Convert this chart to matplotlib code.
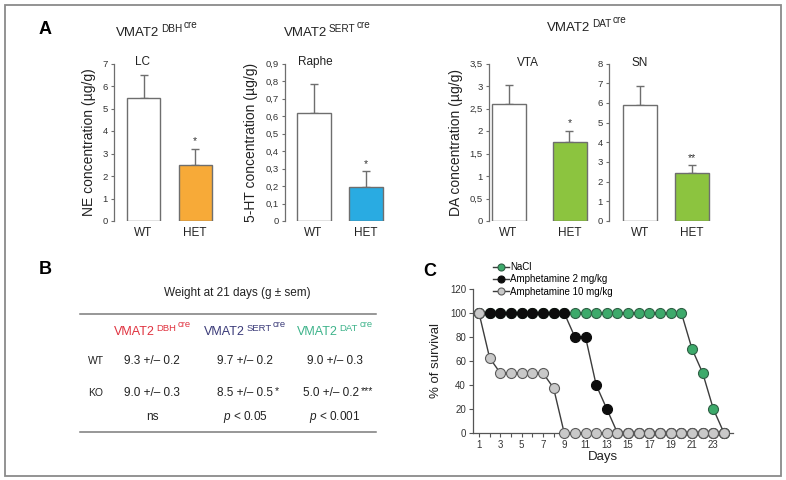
import matplotlib
matplotlib.use("Agg")
import matplotlib.pyplot as plt
from matplotlib.patches import Rectangle
from matplotlib.lines import Line2D

plt.rcParams['font.family'] = ['Liberation Sans', 'DejaVu Sans']
plt.rcParams['mathtext.fontset'] = 'custom'
plt.rcParams['mathtext.rm'] = 'Liberation Sans'
plt.rcParams['mathtext.it'] = 'Liberation Sans:italic'

# ---- panel A data ----
regions = ['LC', 'Raphe', 'VTA', 'SN']
groups = ['WT', 'HET']
wt_mean = [5.45, 0.615, 2.6, 5.9]
wt_sem = [1.02, 0.167, 0.42, 0.97]
het_mean = [2.5, 0.195, 1.76, 2.45]
het_sem = [0.72, 0.09, 0.25, 0.37]
het_stars = ['*', '*', '*', '**']
y_max = [7, 0.9, 3.5, 8]
y_ticks = [list(range(0, 8)),
           [0, 0.1, 0.2, 0.3, 0.4, 0.5, 0.6, 0.7, 0.8, 0.9],
           [0, 0.5, 1, 1.5, 2, 2.5, 3, 3.5],
           list(range(0, 9))]
het_colors = ['#F7AA38', '#29ABE2', '#8CC43F', '#8CC43F']
ylabels = ['NE concentration (µg/g)', '5-HT concentration (µg/g)',
           'DA concentration (µg/g)', None]

# ---- panel B data ----
lines_b = ['DBH', 'SERT', 'DAT']
wt_weight = ['9.3 +/– 0.2', '9.7 +/– 0.2', '9.0 +/– 0.3']
ko_weight = ['9.0 +/– 0.3', '8.5 +/– 0.5', '5.0 +/– 0.2']
ko_stars = ['', '*', '***']
p_text = ['ns', '$p$ < 0.05', '$p$ < 0.001']

# ---- panel C data ----
days = list(range(1, 25))
nacl = [100] * 20 + [70, 50, 20, 0]
amph2 = [100] * 9 + [80, 80, 40, 20] + [0] * 11
amph10 = [100, 62.5, 50, 50, 50, 50, 50, 37.5] + [0] * 16

W, H = 786, 480
fig = plt.figure(figsize=(W / 100, H / 100), dpi=100)
renderer = fig.canvas.get_renderer()


def box(x0, ytop, x1, ybot):
    return [x0 / W, 1 - ybot / H, (x1 - x0) / W, (ybot - ytop) / H]


def ftext(x, y, s, **kw):
    kw.setdefault('ha', 'center')
    kw.setdefault('va', 'center')
    return fig.text(x / W, 1 - y / H, s, **kw)


def sup_text(xc, y, base, sup1, sup2='', fs=9, color='#222222', gap=1.5,
             scale=0.76, rise=0.42):
    # base text with a raised small label and a second, higher one
    small = fs * scale
    pieces = [(base, fs, 0), (sup1, small, -fs * rise), (sup2, small, -fs * 0.88)]
    arts = []
    for s, size, dy in pieces:
        if not s:
            continue
        t = ftext(0, y + dy, s, fontsize=size, color=color, ha='left', va='baseline')
        arts.append((t, t.get_window_extent(renderer).width))
    total = sum(w for _, w in arts) + gap * (len(arts) - 1)
    x = xc - total / 2
    for t, w in arts:
        t.set_x(x / W)
        x += w + gap


# outer frame
fig.patches.append(Rectangle((5 / W, 4 / H), 776 / W, 471 / H, transform=fig.transFigure,
                             fill=False, edgecolor='#8a8a8a', lw=1.3))

# panel layout in pixels: axis x, WT centre, HET centre, bar width
layout = [(114, 143.5, 195, 33), (285, 313.5, 366, 34),
          (489, 508.5, 569.5, 34), (609, 640, 692, 34)]
title_pos = [(142, 62), (315, 62), (528, 63), (640, 63)]
ylabel_x = [96, 258, 463, None]
y0_px, grey = 221, '#6e6e6e'

for i in range(4):
    xa, cw, ch, bw = layout[i]
    sp = ch - cw
    right = ch + bw / 2 + 8
    ax = fig.add_axes(box(xa, 63.5, right, y0_px))
    ax.set_xlim(-(cw - xa) / sp, 1 + (right - ch) / sp)
    ax.set_ylim(0, y_max[i])
    ax.bar([0, 1], [wt_mean[i], het_mean[i]], width=bw / sp,
           color=['white', het_colors[i]], edgecolor=grey, linewidth=1.0, zorder=2)
    ax.errorbar([0, 1], [wt_mean[i], het_mean[i]],
                yerr=[[0, 0], [wt_sem[i], het_sem[i]]], fmt='none',
                ecolor=grey, elinewidth=1.0, capsize=3, capthick=1.0, zorder=1)
    ax.text(1, het_mean[i] + het_sem[i] + y_max[i] * 0.015, het_stars[i],
            ha='center', va='bottom', fontsize=7.5, color='#333333')
    for s in ['top', 'right', 'bottom']:
        ax.spines[s].set_visible(False)
    ax.spines['left'].set_color(grey)
    ax.spines['left'].set_linewidth(0.9)
    ax.set_yticks(y_ticks[i])
    ax.set_yticklabels([('%g' % v).replace('.', ',') for v in y_ticks[i]],
                       fontsize=6.8, color='#333333')
    ax.tick_params(axis='y', length=2.5, width=0.8, color=grey, pad=2)
    ax.set_xticks([0, 1])
    ax.set_xticklabels(groups, fontsize=8.5, color='#222222')
    ax.tick_params(axis='x', length=0, pad=4)
    ax.patch.set_alpha(0)
    if ylabels[i]:
        ax.set_ylabel(ylabels[i], fontsize=10, color='#222222')
        ax.yaxis.set_label_coords((ylabel_x[i] - xa) / (right - xa), 0.5)
    ftext(title_pos[i][0], title_pos[i][1], regions[i], fontsize=8.5, color='#222222')

ftext(45, 30, 'A', fontsize=13, fontweight='bold')
sup_text(157, 36, 'VMAT2', 'DBH', 'cre', fs=9.5)
sup_text(327, 36, 'VMAT2', 'SERT', 'cre', fs=9.5)
sup_text(587, 31, 'VMAT2', 'DAT', 'cre', fs=9.5)

# ---- panel B: table ----
ftext(45, 269, 'B', fontsize=13, fontweight='bold')
ftext(237, 293, 'Weight at 21 days (g ± sem)', fontsize=8.5, color='#222222')
for yl in (314, 432):
    fig.add_artist(Line2D([80 / W, 376 / W], [1 - yl / H, 1 - yl / H],
                          color='#7a7a7a', lw=1.1))
col_x = [152, 245, 335]
head_colors = ['#E0323F', '#3A3A78', '#3DB38A']
for j in range(3):
    sup_text(col_x[j], 335, 'VMAT2', lines_b[j], 'cre', fs=9, color=head_colors[j])
    ftext(col_x[j], 361, wt_weight[j], fontsize=8.5, color='#222222')
    sup_text(col_x[j] + (3 if ko_stars[j] else 0), 396, ko_weight[j], ko_stars[j],
             fs=8.5, gap=1.5, scale=0.9, rise=0.25)
    ftext(col_x[j], 417, p_text[j], fontsize=8.5, color='#222222')
ftext(96, 361, 'WT', fontsize=7.5, color='#222222')
ftext(96, 393, 'KO', fontsize=7.5, color='#222222')

# ---- panel C: survival ----
ftext(430, 272, 'C', fontsize=13, fontweight='bold')
axc = fig.add_axes(box(473, 289, 733, 433))
x_per_px = 1 / 10.64
axc.set_xlim(1 - 6 * x_per_px, 24 + 9 * x_per_px)
axc.set_ylim(0, 120)
line_c = '#3c3c3c'
axc.plot(days, nacl, '-o', color=line_c, lw=1.0, ms=7.2, mfc='#3DAA6B', mec='#2f5f45',
         mew=0.8, label='NaCl', zorder=3, clip_on=False)
axc.plot(days, amph2, '-o', color=line_c, lw=1.0, ms=7.2, mfc='#0d0d0d', mec='#0d0d0d',
         mew=0.8, label='Amphetamine 2 mg/kg', zorder=4, clip_on=False)
axc.plot(days, amph10, '-o', color=line_c, lw=1.0, ms=7.2, mfc='#c9c9c9', mec='#5a5a5a',
         mew=0.8, label='Amphetamine 10 mg/kg', zorder=5, clip_on=False)
for s in ['top', 'right']:
    axc.spines[s].set_visible(False)
for s in ['left', 'bottom']:
    axc.spines[s].set_color('#555555')
    axc.spines[s].set_linewidth(0.9)
axc.set_yticks(range(0, 121, 20))
axc.set_xticks(days)
axc.set_xticklabels([str(d) if d % 2 == 1 else '' for d in days])
axc.tick_params(labelsize=7, colors='#333333', length=3, width=0.8, pad=2)
axc.tick_params(axis='both', color='#555555')
axc.set_xlabel('Days', fontsize=9.5, color='#222222', labelpad=1)
axc.set_ylabel('% of survival', fontsize=9.5, color='#222222', labelpad=6)
axc.patch.set_alpha(0)
fig.legend(*axc.get_legend_handles_labels(), loc='upper left',
           bbox_to_anchor=(493 / W, 1 - 262 / H), frameon=False, fontsize=7,
           handlelength=1.6, handletextpad=0.2, labelspacing=0.25, markerscale=0.7,
           borderpad=0, borderaxespad=0)

fig.savefig('out.png', dpi=100)
